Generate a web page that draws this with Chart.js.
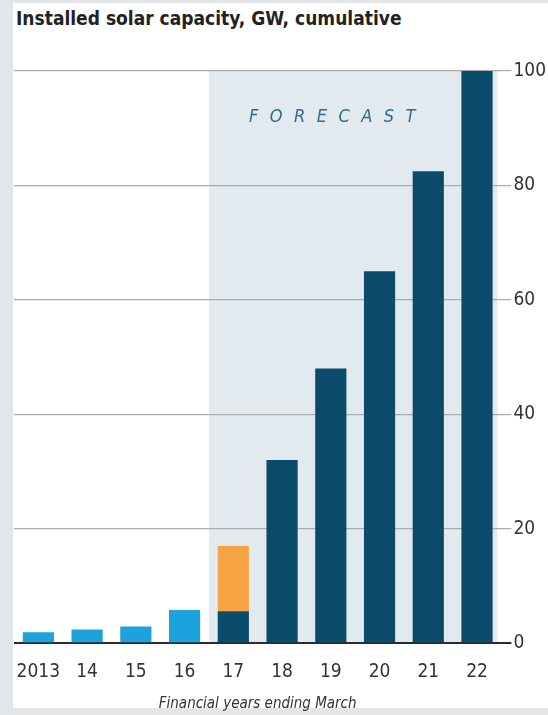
<!DOCTYPE html>
<html>
<head>
<meta charset="utf-8">
<script src="https://cdn.jsdelivr.net/npm/chart.js@4/dist/chart.umd.min.js"></script>
<style>
    html, body { margin: 0; padding: 0; }
    body { width: 548px; height: 715px; background: #e3e6e9; position: relative; overflow: hidden; }
    .panel { position: absolute; left: 13px; top: 3px; width: 535px; height: 705px; background: #ffffff; }
    .title {
        position: absolute; left: 16px; top: 7px;
        font-family: "DejaVu Sans Condensed", sans-serif;
        font-weight: bold; font-size: 19px; color: #222;
    }
    #chartWrap { position: absolute; left: 0; top: 0; width: 548px; height: 715px; }
</style>
</head>
<body>
<div class="panel"></div>
<div class="title">Installed solar capacity, GW, cumulative</div>
<div id="chartWrap"><canvas id="solarChart"></canvas></div>
<script>
// Financial years ending March
const years = ['2013', '14', '15', '16', '17', '18', '19', '20', '21', '22'];
// Installed capacity, GW
const actual = [1.9, 2.4, 2.9, 5.8, null, null, null, null, null, null];
const projected = [null, null, null, null, 5.6, 32, 48, 65, 82.5, 100];
const addedIn17 = [null, null, null, null, 11.4, null, null, null, null, null];
const yTicks = [0, 20, 40, 60, 80, 100];
const forecastFrom = 4; // index of first forecast year

const fontStack = '"DejaVu Sans Condensed", sans-serif';

// Shaded forecast band plus its label, behind the grid and bars
const forecastBand = {
    id: 'forecastBand',
    beforeDraw(chart) {
        const { ctx, chartArea, scales } = chart;
        const x0 = (scales.x.getPixelForValue(forecastFrom - 1) + scales.x.getPixelForValue(forecastFrom)) / 2;
        const x1 = chartArea.right - 4;
        ctx.save();
        ctx.fillStyle = '#e2eaf0';
        ctx.fillRect(x0, chartArea.top, x1 - x0, chartArea.bottom - chartArea.top);
        ctx.font = 'italic 18px ' + fontStack;
        ctx.fillStyle = '#2f6d8f';
        ctx.textAlign = 'center';
        ctx.textBaseline = 'middle';
        ctx.letterSpacing = '11.5px';
        ctx.fillText('FORECAST', x0 + 129, chartArea.top + 46);
        ctx.restore();
    }
};

const ctx = document.getElementById('solarChart').getContext('2d');
window.solarChart = new Chart(ctx, {
    type: 'bar',
    data: {
        labels: years,
        datasets: [
            { label: 'Actual', data: actual, backgroundColor: '#1ca3dd' },
            { label: 'Forecast', data: projected, backgroundColor: '#0a4a6b' },
            { label: 'Added in 2017', data: addedIn17, backgroundColor: '#f6a443' }
        ]
    },
    options: {
        responsive: true,
        maintainAspectRatio: false,
        animation: false,
        datasets: {
            bar: { categoryPercentage: 1, barPercentage: 0.64, borderWidth: 0 }
        },
        layout: {
            padding: { top: 71, left: 14, right: 0, bottom: 2 }
        },
        plugins: {
            legend: { display: false },
            tooltip: { enabled: false }
        },
        scales: {
            x: {
                stacked: true,
                grid: { display: false },
                border: { display: false },
                ticks: {
                    color: '#333',
                    padding: 9,
                    maxRotation: 0,
                    autoSkip: false,
                    font: { family: fontStack, size: 19 }
                },
                title: {
                    display: true,
                    text: 'Financial years ending March',
                    color: '#333',
                    padding: { top: 3, bottom: 0 },
                    font: { family: fontStack, size: 15, style: 'italic' }
                }
            },
            y: {
                stacked: true,
                position: 'right',
                min: 0,
                max: 100,
                afterBuildTicks: (axis) => {
                    axis.ticks = yTicks.map(v => ({ value: v }));
                },
                border: { display: false },
                grid: {
                    color: (c) => c.tick && c.tick.value === 0 ? '#2b2b2b' : '#ababab',
                    lineWidth: (c) => c.tick && c.tick.value === 0 ? 2 : 1.2,
                    tickLength: 10
                },
                ticks: {
                    color: '#333',
                    padding: 2,
                    font: { family: fontStack, size: 19 }
                }
            }
        }
    },
    plugins: [forecastBand]
});
</script>
</body>
</html>
